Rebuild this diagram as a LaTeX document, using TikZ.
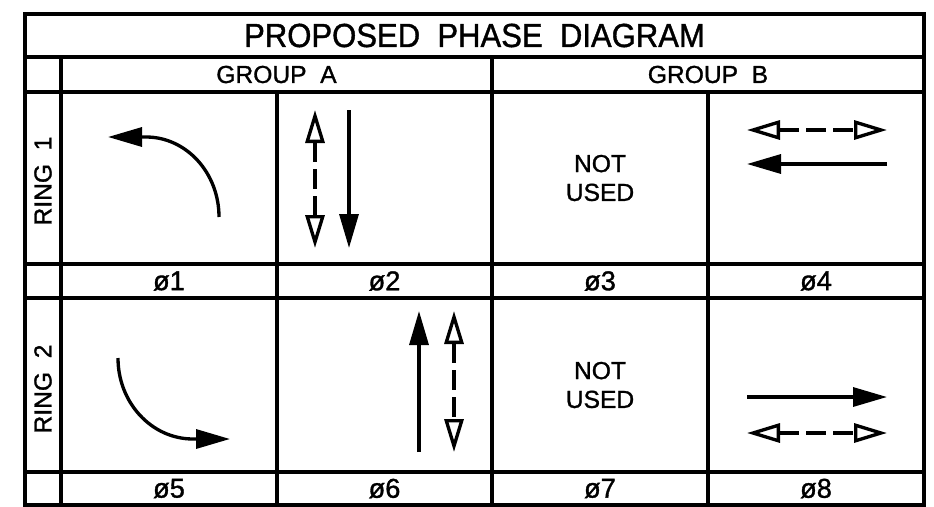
\documentclass[tikz,border=0pt]{standalone}
\usepackage{fontspec}
\setmainfont{Liberation Sans}
\newfontfamily\cadfont{Liberation Sans}[FakeBold=1.2]
\usetikzlibrary{arrows.meta}

\begin{document}
\begin{tikzpicture}[
  grid/.style={line width=2pt},
  mov/.style={line width=1.9pt,-{Triangle[length=0.68cm,width=0.38cm]}},
  ped/.style={line width=1.9pt,dash pattern=on 0.4cm off 0.14cm,
    {Triangle[open,length=0.66cm,width=0.38cm]}-{Triangle[open,length=0.66cm,width=0.38cm]}},
  lbl/.style={font=\cadfont\fontsize{14}{16.4}\selectfont,align=center},
  phs/.style={font=\cadfont\fontsize{15.5}{17}\selectfont}]
\useasboundingbox (0,0) rectangle (18.68,10.12);

\draw[grid] (0.5,0.02) rectangle (18.48,9.84);
\draw[grid] (0.5,8.98) -- (18.48,8.98);
\draw[grid] (0.5,8.28) -- (18.48,8.28);
\draw[grid] (0.5,4.84) -- (18.48,4.84);
\draw[grid] (0.5,4.16) -- (18.48,4.16);
\draw[grid] (0.5,0.68) -- (18.48,0.68);
\draw[grid] (1.22,0.02) -- (1.22,8.98);
\draw[grid] (9.84,0.02) -- (9.84,8.98);
\draw[grid] (5.54,0.02) -- (5.54,8.28);
\draw[grid] (14.16,0.02) -- (14.16,8.28);

\node (title) at (9.49,9.41) {\cadfont\fontsize{19}{20}\selectfont\scalebox{0.93}[1]{PROPOSED\ \ PHASE\ \ DIAGRAM}};
\node[lbl] (grpA) at (5.53,8.63) {GROUP\ \ A};
\node[lbl] (grpB) at (14.16,8.63) {GROUP\ \ B};
\node[lbl,rotate=90] (ring1) at (0.86,6.5) {RING\ \ 1};
\node[lbl,rotate=90] (ring2) at (0.86,2.34) {RING\ \ 2};

\node[phs] (p1) at (3.38,4.5) {ø1};
\node[phs] (p2) at (7.69,4.5) {ø2};
\node[phs] (p3) at (12.0,4.5) {ø3};
\node[phs] (p4) at (16.32,4.5) {ø4};
\node[phs] (p5) at (3.38,0.35) {ø5};
\node[phs] (p6) at (7.69,0.35) {ø6};
\node[phs] (p7) at (12.0,0.35) {ø7};
\node[phs] (p8) at (16.32,0.35) {ø8};

\node[lbl] (nu3) at (12.0,6.56) {NOT\\USED};
\node[lbl] (nu7) at (12.0,2.42) {NOT\\USED};

% ring 1
\draw[mov] (4.38,5.78) arc[start angle=0,end angle=90,x radius=1.46,y radius=1.6] -- (2.16,7.38);
\draw[ped] (6.3,7.92) -- (6.3,5.16);
\draw[mov] (6.98,7.92) -- (6.98,5.16);
\draw[ped] (14.94,7.52) -- (17.74,7.52);
\draw[mov] (17.74,6.84) -- (14.94,6.84);

% ring 2
\draw[mov] (2.36,2.96) arc[start angle=180,end angle=270,x radius=1.5,y radius=1.62] -- (4.6,1.34);
\draw[mov] (8.38,1.08) -- (8.38,3.9);
\draw[ped] (9.08,3.9) -- (9.08,1.08);
\draw[mov] (14.94,2.18) -- (17.74,2.18);
\draw[ped] (14.94,1.46) -- (17.74,1.46);
\end{tikzpicture}
\end{document}
